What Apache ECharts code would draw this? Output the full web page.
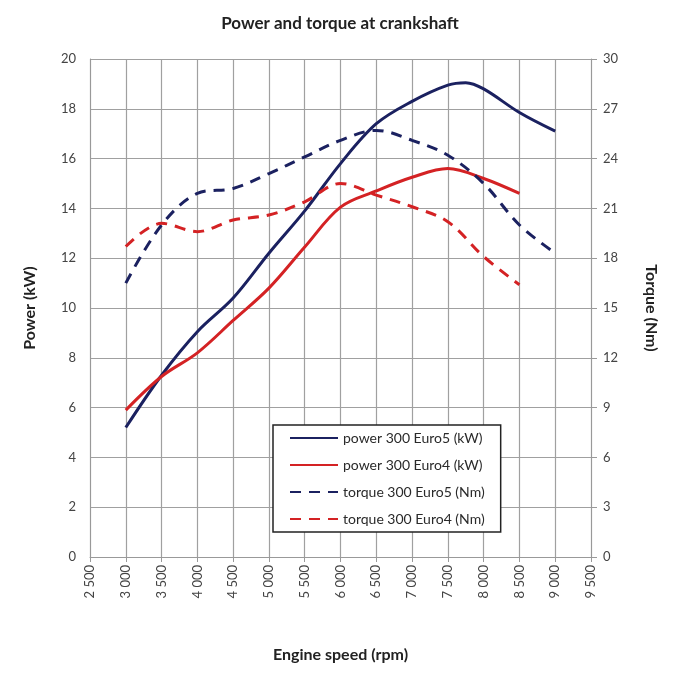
<!DOCTYPE html>
<html><head><meta charset="utf-8">
<script src="https://cdn.jsdelivr.net/npm/echarts@6/dist/echarts.min.js"></script>
<style>html,body{margin:0;padding:0;background:#fff}#c{width:680px;height:677px}</style>
</head><body><div id="c"></div>
<script>
const rpmTicks = [2500,3000,3500,4000,4500,5000,5500,6000,6500,7000,7500,8000,8500,9000,9500];
const powerEuro5 = [[3000,5.2],[3500,7.3],[4000,9.05],[4500,10.4],[5000,12.2],[5500,13.9],[6000,15.8],[6500,17.4],[7000,18.3],[7500,18.95],[7750,19.05],[8000,18.8],[8500,17.85],[9000,17.1]];
const powerEuro4 = [[3000,5.9],[3500,7.25],[4000,8.2],[4500,9.5],[5000,10.8],[5500,12.45],[6000,14.05],[6500,14.7],[7000,15.25],[7500,15.6],[8000,15.2],[8500,14.6]];
const torqueEuro5 = [[3000,16.5],[3500,20.0],[4000,21.9],[4500,22.2],[5000,23.1],[5500,24.1],[6000,25.1],[6500,25.7],[7000,25.1],[7500,24.2],[8000,22.5],[8500,20.0],[9000,18.3]];
const torqueEuro4 = [[3000,18.7],[3500,20.1],[4000,19.6],[4500,20.3],[5000,20.6],[5500,21.4],[6000,22.5],[6500,21.8],[7000,21.1],[7500,20.2],[8000,18.1],[8500,16.4]];
const seriesNames = ['power 300 Euro5 (kW)','power 300 Euro4 (kW)','torque 300 Euro5 (Nm)','torque 300 Euro4 (Nm)'];
const navy = '#1b2160', red = '#d42224';
const font = 'Lato, "Open Sans", sans-serif';
const chart = echarts.init(document.getElementById('c'));
function mk(name, data, color, dashed, yIdx){
  return {name, type:'line', data, yAxisIndex:yIdx, smooth:0.35, symbol:'none', showSymbol:false,
    lineStyle:{color, width:3, type: dashed ? [11,8] : 'solid'}, itemStyle:{color}};
}
chart.setOption({
  animation:false,
  title:{text:'Power and torque at crankshaft', left:'center', top:10,
    textStyle:{fontFamily:font, fontWeight:'bold', fontSize:17, color:'#222'}},
  grid:{left:90, right:89, top:59, bottom:120},
  legend:{orient:'vertical', left:273, top:425, width:247,
    data:seriesNames.map(n=>({name:n, itemStyle:{opacity:0}})),
    itemStyle:{opacity:0},
    backgroundColor:'#fff', borderColor:'#222', borderWidth:1.5, padding:[6,16,6,16],
    itemWidth:48, itemHeight:12, itemGap:13, textStyle:{fontFamily:font, fontSize:14, color:'#2a2a2a'}},
  xAxis:{type:'value', min:2500, max:9500, interval:500,
    axisLine:{show:true, lineStyle:{color:'#999'}}, axisTick:{show:true, length:5, lineStyle:{color:'#999'}},
    splitLine:{show:true, lineStyle:{color:'#a0a0a0', width:1.2}},
    axisLabel:{rotate:90, fontFamily:font, fontSize:13, color:'#444', margin:8,
      formatter:v=>{const s=String(v); return s.length>3? s.slice(0,s.length-3)+' '+s.slice(-3) : s;}},
    name:'Engine speed (rpm)', nameLocation:'middle', nameGap:90,
    nameTextStyle:{fontFamily:font, fontWeight:'bold', fontSize:16, color:'#222'}},
  yAxis:[
    {type:'value', min:0, max:20, interval:2, position:'left',
     axisLine:{show:true, lineStyle:{color:'#999'}}, axisTick:{show:false},
     splitLine:{show:true, lineStyle:{color:'#a0a0a0', width:1.2}},
     axisLabel:{fontFamily:font, fontSize:13, color:'#444', margin:14},
     name:'Power (kW)', nameLocation:'middle', nameGap:52, nameRotate:90,
     nameTextStyle:{fontFamily:font, fontWeight:'bold', fontSize:16, color:'#222'}},
    {type:'value', min:0, max:30, interval:3, position:'right',
     axisLine:{show:true, lineStyle:{color:'#999'}}, axisTick:{show:true, length:6, lineStyle:{color:'#999'}},
     splitLine:{show:false},
     axisLabel:{fontFamily:font, fontSize:13, color:'#444', margin:12},
     name:'Torque (Nm)', nameLocation:'middle', nameGap:52, nameRotate:-90,
     nameTextStyle:{fontFamily:font, fontWeight:'bold', fontSize:16, color:'#222'}}
  ],
  series:[
    mk(seriesNames[0], powerEuro5, navy, false, 0),
    mk(seriesNames[1], powerEuro4, red, false, 0),
    mk(seriesNames[2], torqueEuro5, navy, true, 1),
    mk(seriesNames[3], torqueEuro4, red, true, 1)
  ]
});
</script></body></html>
